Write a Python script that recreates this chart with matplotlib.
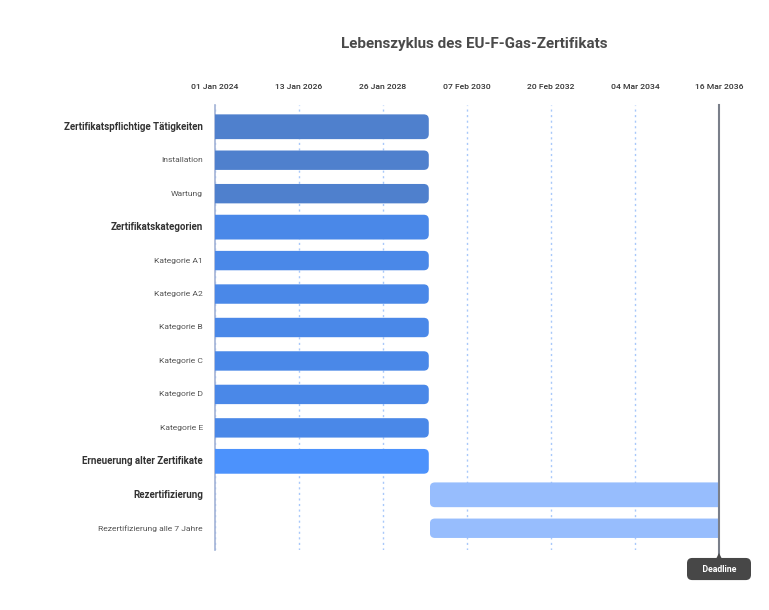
import matplotlib
matplotlib.use("Agg")
import matplotlib.pyplot as plt
import matplotlib.dates as mdates
from matplotlib.patches import FancyBboxPatch, Rectangle
from matplotlib.transforms import blended_transform_factory
import datetime as dt

plt.rcParams['font.family'] = ['Roboto', 'DejaVu Sans']

title = "Lebenszyklus des EU-F-Gas-Zertifikats"

# --- data -------------------------------------------------
tasks = ["Zertifikatspflichtige Tätigkeiten", "Installation", "Wartung",
         "Zertifikatskategorien", "Kategorie A1", "Kategorie A2", "Kategorie B",
         "Kategorie C", "Kategorie D", "Kategorie E",
         "Erneuerung alter Zertifikate", "Rezertifizierung",
         "Rezertifizierung alle 7 Jahre"]
is_group = [True, False, False, True, False, False, False, False, False, False,
            True, True, False]
starts = ["2024-01-01"] * 11 + ["2029-03-16", "2029-03-16"]
ends = ["2029-03-06"] * 11 + ["2036-03-16", "2036-03-16"]
colors = ["#4f80cd"] * 3 + ["#4a88e8"] * 7 + ["#4c92fc"] + ["#97bdfd"] * 2
tick_dates = ["2024-01-01", "2026-01-13", "2028-01-26", "2030-02-07",
              "2032-02-20", "2034-03-04", "2036-03-16"]
deadline = "2036-03-16"


def d(s):
    return mdates.date2num(dt.datetime.strptime(s, "%Y-%m-%d"))


fig = plt.figure(figsize=(7.69, 6.1), dpi=100)
fig.text(474 / 769, 1 - 44 / 610, title, ha='center', va='center',
         fontsize=10.9, fontweight='bold', color='#4a4a4a')

ax = fig.add_axes([215 / 769, 60 / 610, (719 - 215) / 769, (505 - 60) / 610])
xmin, xmax = d(tick_dates[0]), d(tick_dates[-1])
ax.set_xlim(xmin, xmax)
n = len(tasks)
ax.set_ylim(n - 0.35, -0.65)

# rounding radius in pixels -> data units
px_x = (xmax - xmin) / 504.0
px_y = (n + 0.3) / 445.0
r = 5 * px_x
aspect = px_y / px_x

for i, (s, e) in enumerate(zip(starts, ends)):
    x0, x1 = d(s), d(e)
    h = 0.74 if is_group[i] else 0.58
    y0 = i - h / 2
    # square end where the bar touches the axis / deadline: extend + clip
    bx0 = x0 - 3 * r if x0 <= xmin else x0
    bx1 = x1 + 3 * r if x1 >= xmax else x1
    bar = FancyBboxPatch((bx0, y0), bx1 - bx0, h,
                         boxstyle="round,pad=0,rounding_size=%f" % r,
                         mutation_aspect=aspect, fc=colors[i], ec='none',
                         zorder=3)
    ax.add_patch(bar)
    clip = Rectangle((x0, y0 - 0.1), x1 - x0, h + 0.2, transform=ax.transData)
    bar.set_clip_path(clip)

trans = blended_transform_factory(ax.transAxes, ax.transData)
for i, t in enumerate(tasks):
    if is_group[i]:
        ax.annotate(t, xy=(0, i), xycoords=trans, xytext=(-12, 0),
                    textcoords='offset pixels', ha='right', va='center',
                    fontsize=7.0, fontweight='bold', color='#333333')
    else:
        ax.annotate(t, xy=(0, i), xycoords=trans, xytext=(-12, 0),
                    textcoords='offset pixels', ha='right', va='center',
                    fontsize=6.1, color='#555555')

ax.set_yticks([])
ax.xaxis.tick_top()
ax.set_xticks([d(t) for t in tick_dates])
ax.set_xticklabels([dt.datetime.strptime(t, "%Y-%m-%d").strftime("%d %b %Y")
                    for t in tick_dates], fontsize=6.1, fontweight='medium',
                   color='#333333')
ax.tick_params(axis='x', length=0, pad=11)
ax.grid(axis='x', color='#a8c8fa', linestyle=(0, (1.5, 2.5)), linewidth=1.0,
        zorder=0)

for sp in ['top', 'right', 'bottom']:
    ax.spines[sp].set_visible(False)
ax.spines['left'].set_color('#a3b3d6')
ax.spines['left'].set_linewidth(1.2)

# deadline marker
dl = d(deadline)
ax.plot([dl, dl], [-0.65, n - 0.2], color='#7a7f8a', lw=1.5, zorder=4,
        clip_on=False)
ax.annotate("    Deadline    ", xy=(dl, n - 0.2), xycoords='data',
            xytext=(0, -14), textcoords='offset pixels', ha='center',
            va='center', fontsize=6.3, fontweight='bold', color='white',
            bbox=dict(boxstyle='round,pad=0.75,rounding_size=0.6',
                      fc='#474747', ec='none'),
            annotation_clip=False, zorder=5)
ax.plot([dl], [n - 0.13], marker='^', color='#474747', markersize=6,
        markeredgewidth=0, clip_on=False, zorder=6)

fig.savefig("out.png", dpi=100, facecolor='white')
